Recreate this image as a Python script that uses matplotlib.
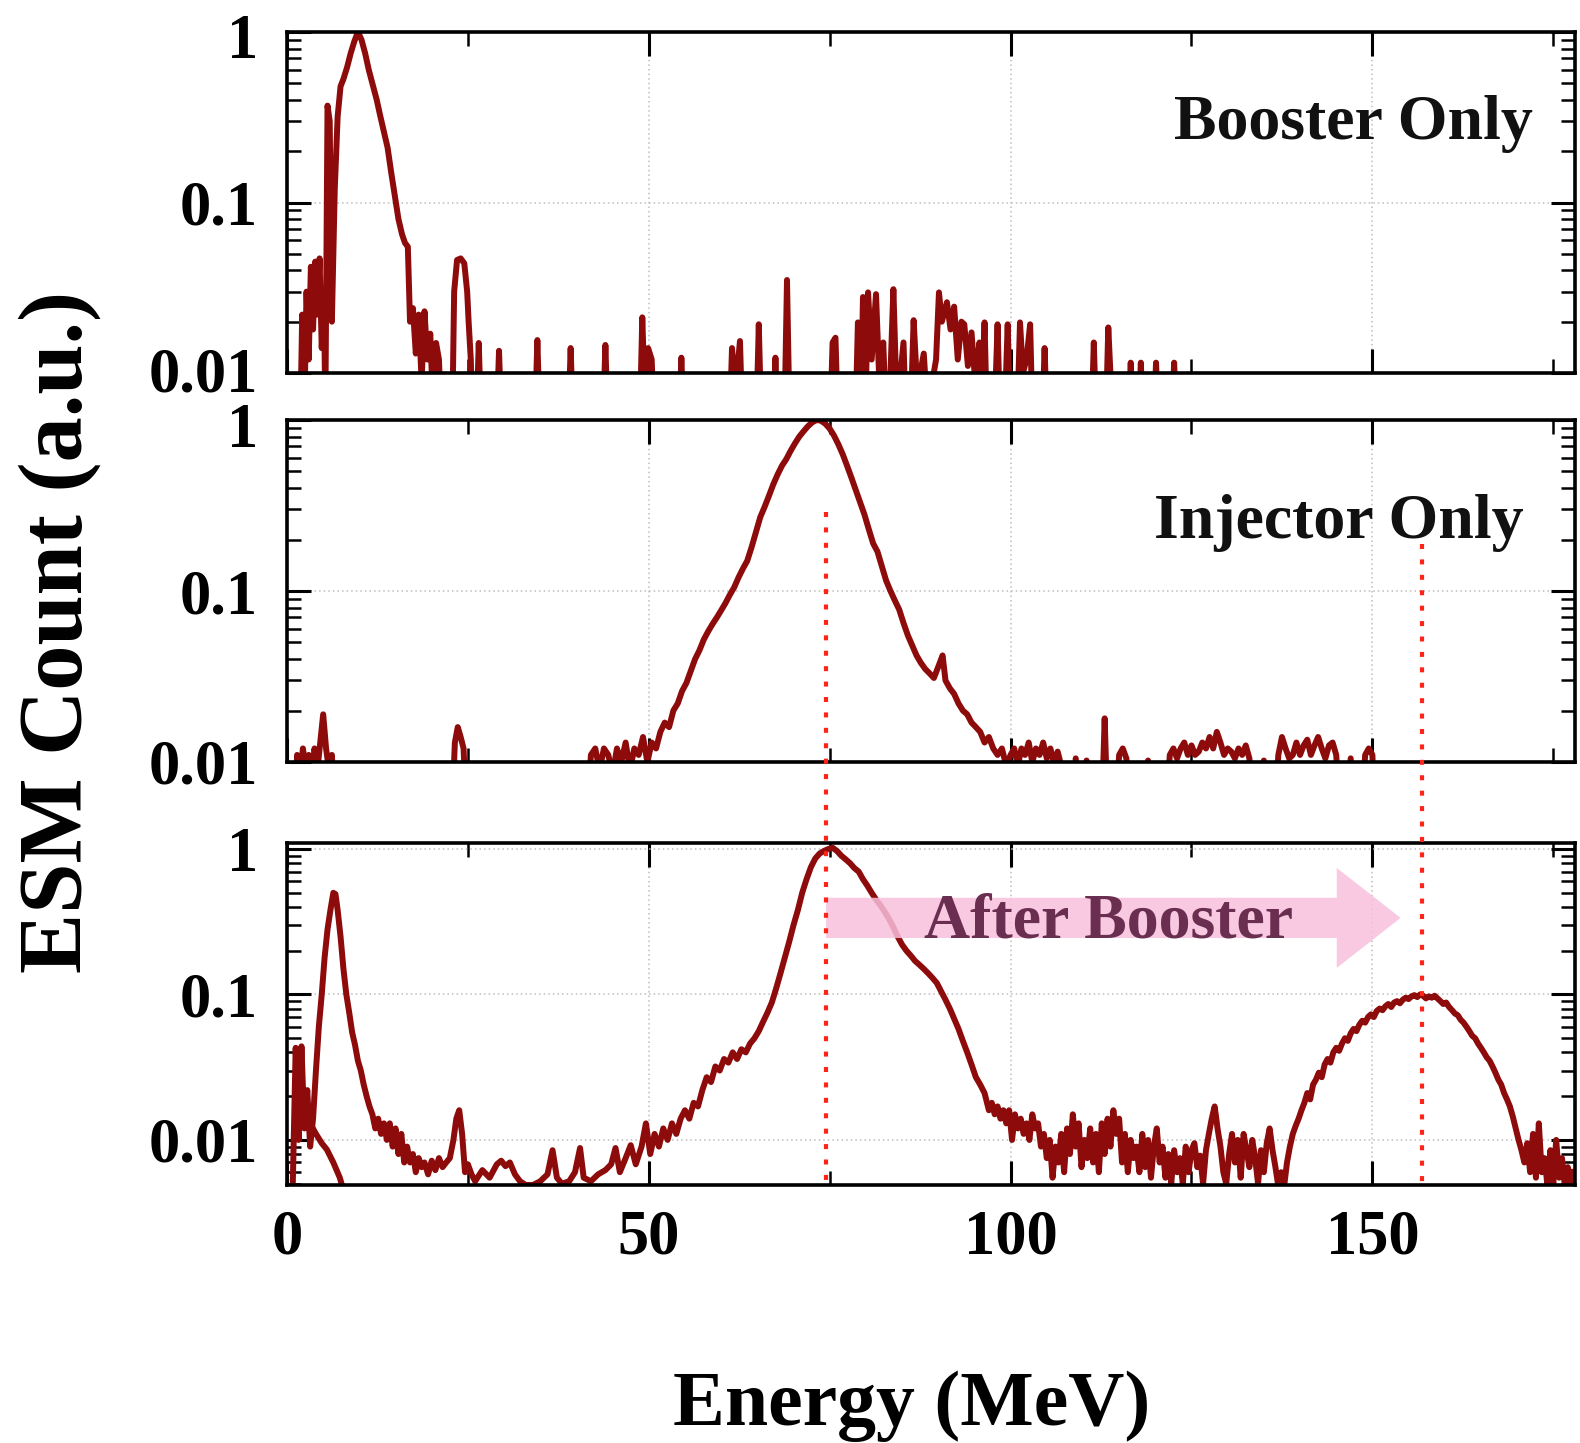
import matplotlib
matplotlib.use("Agg")
import matplotlib.pyplot as plt
import matplotlib.transforms as mtransforms
from matplotlib.lines import Line2D
from matplotlib.ticker import FixedLocator, FixedFormatter, LogLocator, NullFormatter, MultipleLocator

# ---------------- data ----------------
booster_spectrum = [
    (1.8, 0.004), (2.1, 0.022), (2.4, 0.006), (2.7, 0.03), (3.0, 0.012), (3.3, 0.042),
    (3.6, 0.018), (3.9, 0.045), (4.2, 0.022), (4.5, 0.047), (4.8, 0.014), (5.1, 0.028),
    (5.3, 0.006), (5.6, 0.37), (5.9, 0.3), (6.2, 0.02), (6.6, 0.12), (7.0, 0.32),
    (7.4, 0.48), (7.8, 0.53), (8.3, 0.62), (8.8, 0.75), (9.3, 0.88), (9.8, 1.0),
    (10.3, 0.9), (10.8, 0.75), (11.3, 0.6), (11.8, 0.5), (12.4, 0.4), (12.9, 0.32),
    (13.4, 0.26), (13.9, 0.21), (14.4, 0.15), (14.9, 0.11), (15.4, 0.08), (15.9, 0.065),
    (16.3, 0.058), (16.7, 0.055), (17.0, 0.02), (17.4, 0.024), (17.8, 0.013), (18.2, 0.022),
    (18.6, 0.009), (19.0, 0.023), (19.4, 0.012), (19.8, 0.017), (20.2, 0.006), (20.6, 0.015),
    (21.0, 0.012), (21.4, 0.004), (22.8, 0.004), (23.1, 0.03), (23.5, 0.046), (24.0, 0.047),
    (24.5, 0.044), (24.9, 0.03), (25.1, 0.02), (25.4, 0.012), (25.7, 0.004),
    (26.1, 0.004), (26.5, 0.015), (26.9, 0.004), (28.9, 0.004), (29.3, 0.0135), (29.7, 0.004),
    (34.2, 0.004), (34.6, 0.0156), (35.0, 0.004), (38.8, 0.004), (39.2, 0.014), (39.6, 0.004),
    (43.6, 0.004), (44.0, 0.0146), (44.4, 0.004), (48.7, 0.004), (49.1, 0.0212), (49.5, 0.006),
    (49.9, 0.014), (50.4, 0.012), (50.8, 0.004), (54.1, 0.004), (54.5, 0.0123), (54.9, 0.004),
    (61.1, 0.004), (61.5, 0.014), (62.0, 0.008), (62.6, 0.0154), (63.0, 0.004), (64.8, 0.004),
    (65.2, 0.0193), (65.6, 0.004), (67.1, 0.004), (67.5, 0.0123), (67.9, 0.004), (68.7, 0.004),
    (69.1, 0.0351), (69.5, 0.004), (75.0, 0.004), (75.4, 0.0151), (75.8, 0.0161), (76.2, 0.004),
    (78.5, 0.004), (78.9, 0.0198), (79.3, 0.006), (79.6, 0.0279), (80.0, 0.008), (80.3, 0.0297),
    (80.8, 0.012), (81.4, 0.029), (81.9, 0.008), (82.4, 0.0151), (82.9, 0.004), (83.4, 0.01),
    (83.8, 0.031), (84.3, 0.006), (85.2, 0.0151), (85.6, 0.004), (86.2, 0.006), (86.6, 0.0204),
    (87.1, 0.008), (88.0, 0.013), (88.5, 0.006), (89.7, 0.012), (90.1, 0.0297), (90.5, 0.02),
    (91.2, 0.026), (91.7, 0.018), (92.2, 0.0245), (92.7, 0.012), (93.2, 0.02), (93.6, 0.0193),
    (94.1, 0.011), (94.6, 0.0173), (95.1, 0.009), (95.7, 0.0151), (96.0, 0.006), (96.4, 0.0198),
    (96.8, 0.004), (97.8, 0.006), (98.2, 0.0193), (98.6, 0.004), (99.2, 0.006), (99.6, 0.0193),
    (100.0, 0.004), (100.9, 0.005), (101.3, 0.0198), (101.7, 0.01), (102.2, 0.012), (102.7, 0.0193),
    (103.1, 0.004), (104.3, 0.004), (104.7, 0.014), (105.1, 0.004), (111.1, 0.004), (111.5, 0.0151),
    (111.9, 0.004), (113.1, 0.004), (113.5, 0.0185), (113.9, 0.008), (114.3, 0.004), (116.2, 0.004),
    (116.6, 0.0115), (117.0, 0.004), (117.6, 0.004), (118.0, 0.0115), (118.4, 0.004), (119.7, 0.004),
    (120.1, 0.0115), (120.5, 0.004), (122.2, 0.004), (122.6, 0.0115), (123.0, 0.004),
]

injector_spectrum = [
    (1.0, 0.005), (1.4, 0.011), (1.8, 0.008), (2.2, 0.012), (2.6, 0.009), (3.0, 0.011),
    (3.4, 0.008), (3.8, 0.012), (4.2, 0.009), (4.6, 0.013), (5.0, 0.019), (5.4, 0.012),
    (5.8, 0.009), (6.2, 0.011), (6.6, 0.005), (22.8, 0.005), (23.2, 0.013), (23.6, 0.016),
    (24.0, 0.014), (24.4, 0.012), (24.8, 0.005), (41.5, 0.005), (42.0, 0.011), (42.6, 0.012),
    (43.2, 0.009), (43.8, 0.012), (44.4, 0.011), (45.0, 0.0085), (45.6, 0.012), (46.2, 0.01),
    (46.8, 0.013), (47.4, 0.009), (48.0, 0.012), (48.6, 0.011), (49.2, 0.014), (49.8, 0.01),
    (50.4, 0.013), (51.0, 0.012), (51.6, 0.015), (52.2, 0.017), (52.8, 0.016), (53.4, 0.02),
    (54.0, 0.022), (54.6, 0.026), (55.2, 0.029), (55.8, 0.034), (56.4, 0.04), (57.0, 0.045),
    (57.6, 0.052), (58.2, 0.058), (58.8, 0.064), (59.4, 0.07), (60.0, 0.077), (60.6, 0.085),
    (61.2, 0.095), (61.8, 0.105), (62.4, 0.12), (63.0, 0.135), (63.6, 0.15), (64.2, 0.18),
    (64.8, 0.22), (65.4, 0.27), (66.0, 0.31), (66.6, 0.36), (67.2, 0.42), (67.8, 0.48),
    (68.4, 0.54), (69.0, 0.59), (69.6, 0.66), (70.2, 0.73), (70.8, 0.8), (71.4, 0.86),
    (72.0, 0.92), (72.6, 0.97), (73.2, 1.0), (73.8, 0.99), (74.4, 0.95), (75.0, 0.89),
    (75.6, 0.81), (76.2, 0.72), (76.8, 0.63), (77.4, 0.54), (78.0, 0.46), (78.6, 0.39),
    (79.2, 0.33), (79.8, 0.28), (80.4, 0.23), (81.0, 0.19), (81.6, 0.17), (82.2, 0.14),
    (82.8, 0.115), (83.4, 0.1), (84.0, 0.088), (84.6, 0.078), (85.2, 0.065), (85.8, 0.055),
    (86.4, 0.048), (87.0, 0.042), (87.6, 0.038), (88.2, 0.035), (88.8, 0.033), (89.4, 0.031),
    (90.0, 0.036), (90.6, 0.042), (91.0, 0.03), (91.6, 0.027), (92.2, 0.025), (92.8, 0.022),
    (93.4, 0.02), (94.0, 0.019), (94.6, 0.017), (95.2, 0.016), (95.8, 0.015), (96.4, 0.013),
    (97.0, 0.014), (97.6, 0.012), (98.2, 0.011), (98.8, 0.012), (99.4, 0.0095), (100.0, 0.011),
    (100.5, 0.012), (101.0, 0.0095), (101.5, 0.012), (102.0, 0.011), (102.5, 0.013), (103.0, 0.01),
    (103.5, 0.012), (104.0, 0.011), (104.5, 0.013), (105.0, 0.0105), (105.5, 0.012), (106.0, 0.0098),
    (106.5, 0.0115), (107.0, 0.0095), (107.5, 0.005), (108.5, 0.005), (109.0, 0.0105), (109.5, 0.006),
    (110.5, 0.0102), (111.0, 0.005), (112.6, 0.005), (113.0, 0.018), (113.4, 0.005), (114.5, 0.005),
    (115.0, 0.011), (115.5, 0.012), (116.0, 0.0105), (116.5, 0.005), (118.5, 0.005), (119.0, 0.0102),
    (119.5, 0.005), (121.5, 0.005), (122.0, 0.011), (122.5, 0.012), (123.0, 0.0105), (123.5, 0.012),
    (124.0, 0.013), (124.5, 0.011), (125.0, 0.0125), (125.5, 0.011), (126.0, 0.0115), (126.5, 0.013),
    (127.0, 0.012), (127.5, 0.014), (128.0, 0.012), (128.5, 0.015), (129.0, 0.013), (129.5, 0.011),
    (130.0, 0.012), (130.5, 0.0115), (131.0, 0.0105), (131.5, 0.012), (132.0, 0.011), (132.5, 0.0125),
    (133.0, 0.0105), (133.5, 0.005), (134.5, 0.005), (135.0, 0.0102), (135.5, 0.005), (136.5, 0.005),
    (137.0, 0.011), (137.5, 0.014), (138.0, 0.012), (138.5, 0.0105), (139.0, 0.011), (139.5, 0.013),
    (140.0, 0.011), (140.5, 0.0125), (141.0, 0.0135), (141.5, 0.011), (142.0, 0.0125), (142.5, 0.014),
    (143.0, 0.012), (143.5, 0.0105), (144.0, 0.0125), (144.5, 0.013), (145.0, 0.011), (145.5, 0.005),
    (146.5, 0.005), (147.0, 0.0105), (147.5, 0.005), (148.5, 0.005), (149.0, 0.011), (149.5, 0.012),
    (150.0, 0.011), (150.3, 0.005),
]

after_spectrum = [
    (0.8, 0.005), (1.2, 0.043), (1.6, 0.01), (2.0, 0.044), (2.4, 0.012), (2.8, 0.022),
    (3.2, 0.009), (3.6, 0.014), (4.0, 0.03), (4.4, 0.06), (4.8, 0.1), (5.2, 0.18),
    (5.6, 0.28), (6.0, 0.38), (6.4, 0.5), (6.7, 0.49), (7.0, 0.38), (7.4, 0.25),
    (7.8, 0.15), (8.2, 0.1), (8.6, 0.075), (9.0, 0.055), (9.4, 0.045), (9.8, 0.035),
    (10.2, 0.03), (10.6, 0.024), (11.0, 0.02), (11.4, 0.017), (11.8, 0.015), (12.2, 0.012),
    (12.6, 0.014), (13.0, 0.011), (13.4, 0.013), (13.8, 0.01), (14.2, 0.013), (14.6, 0.009),
    (15.0, 0.012), (15.4, 0.008), (15.8, 0.011), (16.2, 0.007), (16.6, 0.009), (17.0, 0.007),
    (17.4, 0.008), (17.8, 0.006), (18.2, 0.0075), (18.6, 0.0065), (19.0, 0.007), (19.5, 0.0058),
    (20.0, 0.0072), (20.5, 0.0062), (21.0, 0.0075), (21.5, 0.0065), (22.0, 0.007), (22.5, 0.0075),
    (23.0, 0.01), (23.4, 0.014), (23.8, 0.016), (24.2, 0.011), (24.6, 0.006), (25.0, 0.0068),
    (25.5, 0.0058), (26.0, 0.0052), (27.0, 0.0062), (28.0, 0.0055), (29.0, 0.0068), (29.6, 0.0072),
    (30.2, 0.0066), (30.8, 0.007), (31.5, 0.0058), (32.2, 0.0052), (33.0, 0.0049), (34.0, 0.0049),
    (35.0, 0.0052), (36.0, 0.0058), (36.7, 0.0085), (37.3, 0.0055), (38.0, 0.005), (39.0, 0.0052),
    (39.8, 0.006), (40.5, 0.0088), (41.0, 0.0055), (42.0, 0.0052), (43.0, 0.0058), (44.0, 0.0062),
    (44.8, 0.0068), (45.4, 0.0088), (46.0, 0.006), (46.8, 0.0075), (47.5, 0.0092), (48.2, 0.0068),
    (49.0, 0.009), (49.6, 0.013), (50.2, 0.008), (50.8, 0.011), (51.4, 0.009), (52.0, 0.012),
    (52.6, 0.01), (53.2, 0.013), (53.8, 0.011), (54.4, 0.014), (55.0, 0.016), (55.6, 0.014),
    (56.2, 0.018), (56.8, 0.017), (57.4, 0.022), (58.0, 0.027), (58.6, 0.025), (59.2, 0.032),
    (59.8, 0.03), (60.4, 0.036), (61.0, 0.034), (61.6, 0.04), (62.2, 0.036), (62.8, 0.042),
    (63.4, 0.04), (64.0, 0.046), (64.6, 0.05), (65.2, 0.056), (65.8, 0.065), (66.4, 0.075),
    (67.0, 0.088), (67.6, 0.11), (68.2, 0.14), (68.8, 0.18), (69.4, 0.23), (70.0, 0.3),
    (70.6, 0.38), (71.2, 0.5), (71.8, 0.62), (72.4, 0.75), (73.0, 0.86), (73.6, 0.93),
    (74.2, 0.97), (74.8, 1.0), (75.4, 1.02), (76.0, 0.97), (76.6, 0.9), (77.2, 0.85),
    (77.8, 0.8), (78.4, 0.74), (79.0, 0.7), (79.6, 0.62), (80.2, 0.56), (80.8, 0.5),
    (81.4, 0.45), (82.0, 0.41), (82.6, 0.37), (83.2, 0.33), (83.8, 0.29), (84.4, 0.25),
    (85.0, 0.22), (85.6, 0.2), (86.2, 0.185), (86.8, 0.17), (87.4, 0.16), (88.0, 0.15),
    (88.6, 0.14), (89.2, 0.13), (89.8, 0.12), (90.4, 0.105), (91.0, 0.092), (91.6, 0.08),
    (92.2, 0.068), (92.8, 0.058), (93.4, 0.048), (94.0, 0.04), (94.6, 0.033), (95.2, 0.027),
    (95.8, 0.024), (96.4, 0.021), (97.0, 0.016), (97.4, 0.018), (97.8, 0.015), (98.2, 0.017),
    (98.6, 0.014), (99.0, 0.016), (99.4, 0.013), (99.8, 0.016), (100.2, 0.01), (100.6, 0.015),
    (101.0, 0.012), (101.4, 0.014), (101.8, 0.011), (102.2, 0.013), (102.6, 0.01), (103.0, 0.015),
    (103.4, 0.012), (103.8, 0.013), (104.2, 0.009), (104.6, 0.011), (105.0, 0.0075), (105.4, 0.01),
    (105.8, 0.0055), (106.2, 0.009), (106.6, 0.007), (107.0, 0.011), (107.4, 0.006), (107.8, 0.012),
    (108.2, 0.008), (108.6, 0.015), (109.0, 0.009), (109.4, 0.013), (109.8, 0.0065), (110.2, 0.01),
    (110.6, 0.0075), (111.0, 0.012), (111.4, 0.007), (111.8, 0.011), (112.2, 0.006), (112.6, 0.013),
    (113.0, 0.008), (113.4, 0.014), (113.8, 0.009), (114.2, 0.016), (114.6, 0.011), (115.0, 0.014),
    (115.4, 0.007), (115.8, 0.011), (116.2, 0.006), (116.6, 0.01), (117.0, 0.0075), (117.4, 0.009),
    (117.8, 0.006), (118.2, 0.011), (118.6, 0.0065), (119.0, 0.01), (119.4, 0.0055), (119.8, 0.009),
    (120.2, 0.012), (120.6, 0.007), (121.0, 0.009), (121.4, 0.0055), (121.8, 0.008), (122.2, 0.005),
    (122.6, 0.0085), (123.0, 0.006), (123.4, 0.0075), (123.8, 0.005), (124.2, 0.009), (124.6, 0.006),
    (125.0, 0.0085), (125.4, 0.0095), (125.8, 0.0065), (126.2, 0.0078), (126.6, 0.005), (127.0, 0.0085),
    (127.4, 0.011), (127.8, 0.014), (128.2, 0.017), (128.6, 0.012), (129.0, 0.009), (129.4, 0.006),
    (129.8, 0.005), (130.2, 0.008), (130.6, 0.011), (131.0, 0.007), (131.4, 0.01), (131.8, 0.0055),
    (132.2, 0.011), (132.6, 0.0085), (133.0, 0.0065), (133.4, 0.01), (133.8, 0.0075), (134.2, 0.005),
    (134.6, 0.0085), (135.0, 0.006), (135.4, 0.0095), (135.8, 0.012), (136.2, 0.0085), (136.6, 0.0065),
    (137.0, 0.0048), (137.4, 0.006), (137.8, 0.0048), (138.2, 0.007), (138.6, 0.009), (139.0, 0.011),
    (139.4, 0.0125), (139.8, 0.014), (140.2, 0.016), (140.6, 0.018), (141.0, 0.021), (141.4, 0.019),
    (141.8, 0.024), (142.2, 0.026), (142.6, 0.029), (143.0, 0.027), (143.4, 0.033), (143.8, 0.036),
    (144.2, 0.034), (144.6, 0.04), (145.0, 0.043), (145.4, 0.041), (145.8, 0.046), (146.2, 0.05),
    (146.6, 0.048), (147.0, 0.054), (147.4, 0.058), (147.8, 0.056), (148.2, 0.062), (148.6, 0.066),
    (149.0, 0.064), (149.4, 0.07), (149.8, 0.073), (150.2, 0.07), (150.6, 0.077), (151.0, 0.08),
    (151.4, 0.078), (151.8, 0.083), (152.2, 0.086), (152.6, 0.082), (153.0, 0.088), (153.4, 0.09),
    (153.8, 0.087), (154.2, 0.092), (154.6, 0.095), (155.0, 0.093), (155.4, 0.097), (155.8, 0.099),
    (156.2, 0.096), (156.6, 0.1), (157.0, 0.098), (157.4, 0.094), (157.8, 0.097), (158.2, 0.095),
    (158.6, 0.098), (159.0, 0.094), (159.4, 0.09), (159.8, 0.086), (160.2, 0.088), (160.6, 0.082),
    (161.0, 0.078), (161.4, 0.074), (161.8, 0.072), (162.2, 0.067), (162.6, 0.064), (163.0, 0.06),
    (163.4, 0.056), (163.8, 0.052), (164.2, 0.05), (164.6, 0.046), (165.0, 0.043), (165.4, 0.04),
    (165.8, 0.037), (166.2, 0.035), (166.6, 0.032), (167.0, 0.029), (167.4, 0.026), (167.8, 0.024),
    (168.2, 0.021), (168.6, 0.019), (169.0, 0.017), (169.4, 0.0145), (169.8, 0.012), (170.2, 0.01),
    (170.6, 0.0085), (171.0, 0.007), (171.4, 0.0095), (171.8, 0.006), (172.2, 0.011), (172.6, 0.0055),
    (173.0, 0.013), (173.4, 0.006), (173.8, 0.0075), (174.2, 0.0048), (174.6, 0.0085), (175.0, 0.005),
    (175.4, 0.01), (175.8, 0.0055), (176.2, 0.0075), (176.6, 0.0048), (177.0, 0.0065), (177.4, 0.005),
    (177.8, 0.006),
]

# faint lower branch visible under the first peak of the "After Booster" trace
after_low_branch = [
    (3.2, 0.013), (4.0, 0.011), (4.8, 0.0095), (5.5, 0.0086), (6.4, 0.007), (7.3, 0.0055), (7.8, 0.0045),
]

panel_labels = ["Booster Only", "Injector Only", ""]
peak_markers = [74.5, 156.8]          # MeV, red dotted guide lines
arrow_start, arrow_end = 74.5, 153.9  # MeV
x_major_ticks = [0, 50, 100, 150]
y_major_ticks = [0.01, 0.1, 1]
y_tick_labels = ["0.01", "0.1", "1"]

booster_E, booster_C = zip(*booster_spectrum)
injector_E, injector_C = zip(*injector_spectrum)
after_E, after_C = zip(*after_spectrum)
low_E, low_C = zip(*after_low_branch)

# ---------------- style ----------------
plt.rcParams["font.family"] = ["Liberation Serif", "DejaVu Serif"]
plt.rcParams["font.weight"] = "bold"
LINE_C = "#8E0B0B"
W, H = 1580, 1443
fig = plt.figure(figsize=(W / 100, H / 100), dpi=100)
fig.patch.set_facecolor("white")

left = 287 / W
width = (1575 - 287) / W
panels = [(32, 373), (420, 762), (843, 1185)]
ylims = [(0.01, 1.0), (0.01, 1.0), (0.0049, 1.1)]
series = [(booster_E, booster_C), (injector_E, injector_C), (after_E, after_C)]

axes = []
for i, ((top, bot), yl, (E, C)) in enumerate(zip(panels, ylims, series)):
    ax = fig.add_axes([left, 1 - bot / H, width, (bot - top) / H])
    ax.set_yscale("log")
    ax.set_xlim(0, 178)
    ax.set_ylim(*yl)
    ax.plot(E, C, color=LINE_C, lw=4.3, zorder=2)
    ax.yaxis.set_major_locator(FixedLocator(y_major_ticks))
    ax.yaxis.set_major_formatter(FixedFormatter(y_tick_labels))
    ax.yaxis.set_minor_locator(LogLocator(base=10, subs=range(2, 10)))
    ax.yaxis.set_minor_formatter(NullFormatter())
    ax.xaxis.set_major_locator(FixedLocator(x_major_ticks))
    ax.xaxis.set_minor_locator(MultipleLocator(25))
    ax.tick_params(which="both", direction="in", top=True, right=True)
    ax.tick_params(which="major", length=17, width=2.2, labelsize=45)
    ax.tick_params(which="minor", length=10, width=1.8)
    ax.tick_params(axis="y", which="major", pad=21)
    ax.tick_params(axis="x", which="major", pad=18, labelbottom=(i == 2))
    ax.grid(True, which="major", color="#bdbdbd", linestyle=(0, (1, 2)), lw=1.1, zorder=0)
    for s in ax.spines.values():
        s.set_linewidth(2.6)
    axes.append(ax)

axes[2].plot(low_E, low_C, color=LINE_C, lw=4.3, zorder=2)

# small vertical nudges of the "1" / "0.01" tick labels (as in the reference)
for ax, dy in zip(axes[:2], [-0.045, -0.05]):
    t = ax.yaxis.get_major_ticks()[2]
    t.label1.set_transform(t.label1.get_transform()
                           + mtransforms.ScaledTranslation(0, dy, fig.dpi_scale_trans))
t0 = axes[0].yaxis.get_major_ticks()[0]
t0.label1.set_transform(t0.label1.get_transform()
                        + mtransforms.ScaledTranslation(0, 0.03, fig.dpi_scale_trans))

# panel labels
tr1 = mtransforms.blended_transform_factory(axes[0].transData, axes[0].transAxes)
axes[0].text(147.4, 0.685, panel_labels[0], transform=tr1, ha="center", va="baseline",
             fontsize=46, fontweight="bold", color="#111111", zorder=5)
tr2 = mtransforms.blended_transform_factory(axes[1].transData, axes[1].transAxes)
axes[1].text(145.4, 0.655, panel_labels[1], transform=tr2, ha="center", va="baseline",
             fontsize=46, fontweight="bold", color="#111111", zorder=5)

# pink arrow + "After Booster"
ax3 = axes[2]
ax3.annotate("", xy=(arrow_end, 0.781), xytext=(arrow_start, 0.781),
             xycoords=("data", "axes fraction"), textcoords=("data", "axes fraction"),
             arrowprops=dict(arrowstyle="simple,head_length=46,head_width=72,tail_width=29",
                             mutation_scale=1, fc="#F8C0DC", ec="none", alpha=0.85,
                             shrinkA=0, shrinkB=0), zorder=3)
tr3 = mtransforms.blended_transform_factory(ax3.transData, ax3.transAxes)
ax3.text(113.5, 0.725, "After Booster", transform=tr3, ha="center", va="baseline",
         fontsize=46, fontweight="bold", color="#6A2E50", zorder=6)

# red dotted guide lines spanning panels 2 and 3
trf = mtransforms.blended_transform_factory(ax3.transData, fig.transFigure)
tops = [1 - 512 / H, 1 - 544 / H]
bottom = 1 - 1185 / H
for xm, yt in zip(peak_markers, tops):
    fig.add_artist(Line2D([xm, xm], [yt, bottom], transform=trf, color="#FF2418",
                          lw=3.0, linestyle=(0, (1.2, 2.5)), zorder=10))

# axis labels
fig.text(60 / W, 1 - 632 / H, "ESM Count (a.u.)", rotation=90, ha="center", va="center",
         fontsize=65, fontweight="bold")
fig.text(912 / W, 1 - 1425 / H, "Energy (MeV)", ha="center", va="baseline",
         fontsize=56, fontweight="bold")

fig.savefig("out.png", dpi=100, facecolor="white")
